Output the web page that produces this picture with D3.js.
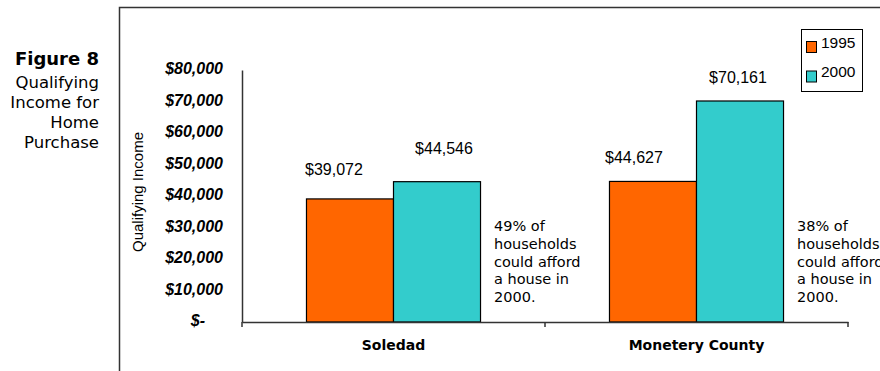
<!DOCTYPE html>
<html lang="en">
<head>
    <meta charset="UTF-8">
    <title>Figure 8 - Qualifying Income for Home Purchase</title>
    <script src="https://d3js.org/d3.v7.min.js"></script>
    <style>
        body { margin: 0; background: #fff; }
        svg { display: block; }
        .num { font-family: "Liberation Sans", Arial, sans-serif; }
        .verd { font-family: "DejaVu Sans", Verdana, sans-serif; }
    </style>
</head>
<body>
    <script>
        const width = 880;
        const height = 371;

        const categories = ["Soledad", "Monetery County"];
        const years = ["1995", "2000"];
        const income1995 = [39072, 44627];
        const income2000 = [44546, 70161];
        const yTicks = [0, 10000, 20000, 30000, 40000, 50000, 60000, 70000, 80000];
        const titleLines = ["Qualifying", "Income for", "Home", "Purchase"];
        const notes = [
            ["49% of", "households", "could afford", "a house in", "2000."],
            ["38% of", "households", "could afford", "a house in", "2000."]
        ];

        const colors = {"1995": "#ff6600", "2000": "#33cccc"};
        // hand-placed data labels in the original (offset from bar centre / top)
        const labelNudge = {
            "Soledad": {"1995": [-16, -24], "2000": [7, -28]},
            "Monetery County": {"1995": [-19, -18], "2000": [-2, -18]}
        };

        const rows = [];
        categories.forEach((c, i) => {
            rows.push({cat: c, year: "1995", value: income1995[i]});
            rows.push({cat: c, year: "2000", value: income2000[i]});
        });

        const svg = d3.select("body").append("svg")
            .attr("width", width)
            .attr("height", height);

        // outer frame
        svg.append("rect")
            .attr("x", 119.5).attr("y", 7.5)
            .attr("width", 900).attr("height", 500)
            .attr("fill", "none")
            .attr("stroke", "#333")
            .attr("stroke-width", 1.5);

        // figure title on the left
        const title = svg.append("text")
            .attr("class", "verd")
            .attr("text-anchor", "end")
            .attr("fill", "#000");
        title.append("tspan")
            .attr("x", 99).attr("y", 65)
            .attr("font-weight", "bold")
            .attr("font-size", 18)
            .text("Figure 8");
        titleLines.forEach((t, i) => {
            title.append("tspan")
                .attr("x", 99).attr("y", 88 + i * 20)
                .attr("font-size", 16.5)
                .text(t);
        });

        const x = d3.scaleBand()
            .domain(categories)
            .range([242, 848]);

        const xInner = d3.scaleBand()
            .domain(years)
            .range([0, x.bandwidth()])
            .paddingOuter(0.741);

        const y = d3.scaleLinear()
            .domain([0, 80000])
            .range([322, 70]);

        // y axis
        const yAxis = svg.append("g")
            .attr("transform", "translate(242,0)")
            .call(d3.axisLeft(y)
                .tickValues(yTicks)
                .tickSize(0)
                .tickPadding(19)
                .tickFormat(d => d === 0 ? "$-" : "$" + d3.format(",")(d)));
        yAxis.select(".domain").attr("stroke", "#333").attr("stroke-width", 1.5);
        yAxis.selectAll("text")
            .attr("class", "num")
            .attr("font-size", 16)
            .attr("font-weight", "bold")
            .attr("font-style", "italic")
            .attr("fill", "#000")
            .attr("dy", "0.22em")
            .attr("dx", d => d === 0 ? -18 : 0);

        svg.append("text")
            .attr("class", "num")
            .attr("transform", "translate(143,192) rotate(-90)")
            .attr("text-anchor", "middle")
            .attr("font-size", 15)
            .attr("fill", "#000")
            .text("Qualifying Income");

        // bars
        svg.append("g")
            .selectAll("rect")
            .data(rows)
            .join("rect")
            .attr("x", d => x(d.cat) + xInner(d.year))
            .attr("y", d => y(d.value))
            .attr("width", xInner.bandwidth())
            .attr("height", d => y(0) - y(d.value))
            .attr("fill", d => colors[d.year])
            .attr("stroke", "#000")
            .attr("stroke-width", 1.2);

        // x axis
        const xAxis = svg.append("g")
            .attr("transform", "translate(0,322)")
            .call(d3.axisBottom(x).tickSize(0).tickPadding(18));
        xAxis.select(".domain").attr("stroke", "#333").attr("stroke-width", 1.5);
        xAxis.selectAll("text")
            .attr("class", "verd")
            .attr("font-size", 14)
            .attr("font-weight", "bold")
            .attr("fill", "#000");

        const bounds = [x.range()[0]].concat(categories.map(c => x(c) + x.bandwidth()));
        svg.append("g")
            .selectAll("line")
            .data(bounds)
            .join("line")
            .attr("x1", d => d).attr("x2", d => d)
            .attr("y1", 322).attr("y2", 327)
            .attr("stroke", "#333")
            .attr("stroke-width", 1.5);

        // data labels
        svg.append("g")
            .selectAll("text")
            .data(rows)
            .join("text")
            .attr("class", "num")
            .attr("font-size", 16)
            .attr("text-anchor", "middle")
            .attr("fill", "#000")
            .attr("x", d => x(d.cat) + xInner(d.year) + xInner.bandwidth() / 2 + labelNudge[d.cat][d.year][0])
            .attr("y", d => y(d.value) + labelNudge[d.cat][d.year][1])
            .text(d => "$" + d3.format(",")(d.value));

        // notes beside each group
        categories.forEach((c, i) => {
            const nx = x(c) + xInner("2000") + xInner.bandwidth() + 13.5;
            const t = svg.append("text")
                .attr("class", "verd")
                .attr("font-size", 14.5)
                .attr("fill", "#000");
            notes[i].forEach((line, j) => {
                t.append("tspan")
                    .attr("x", nx)
                    .attr("y", 231 + j * 17.8)
                    .text(line);
            });
        });

        // legend
        const legend = svg.append("g");
        legend.append("rect")
            .attr("x", 801.5).attr("y", 29.5)
            .attr("width", 61).attr("height", 62)
            .attr("fill", "#fff")
            .attr("stroke", "#000");
        years.forEach((yr, i) => {
            legend.append("rect")
                .attr("x", 806.5).attr("y", 41.5 + i * 29.5)
                .attr("width", 10).attr("height", 11)
                .attr("fill", colors[yr])
                .attr("stroke", "#000");
            legend.append("text")
                .attr("class", "num")
                .attr("x", 821)
                .attr("y", 48 + i * 29)
                .attr("font-size", 15.5)
                .attr("fill", "#000")
                .text(yr);
        });
    </script>
</body>
</html>
